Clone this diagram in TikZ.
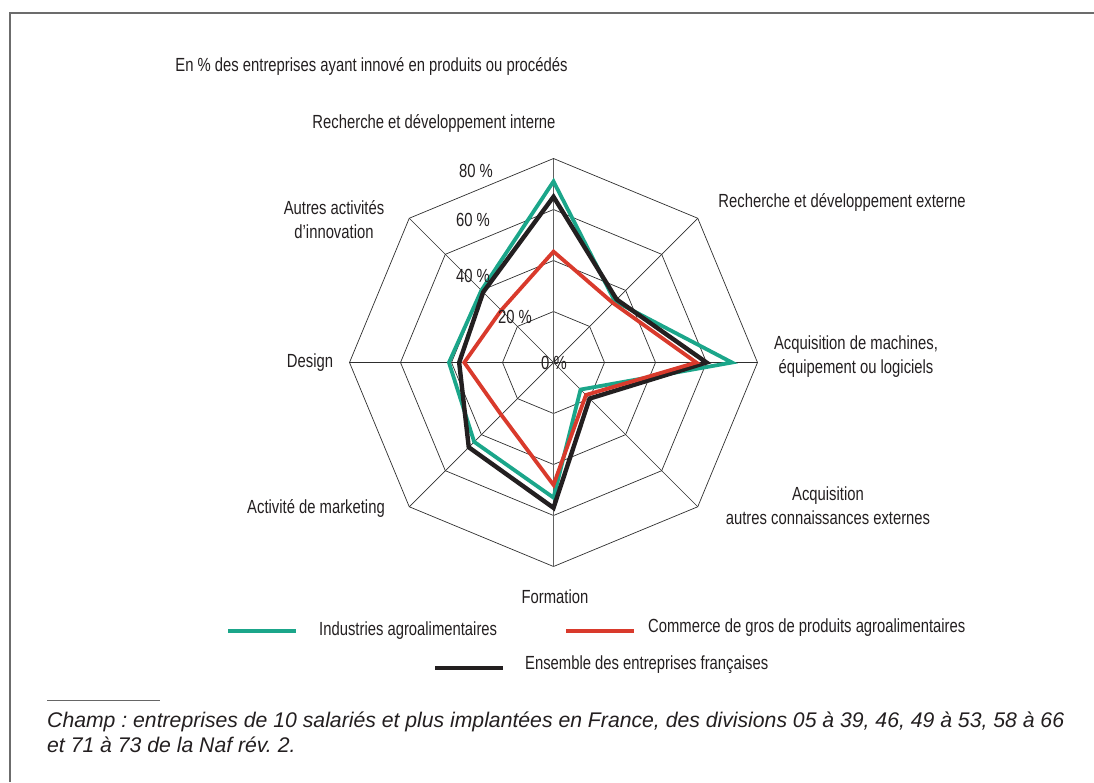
\documentclass[tikz,border=0pt]{standalone}
\usepackage{fontspec}
\setmainfont{Liberation Sans}
\newfontfamily\condfont{Liberation Sans}[FakeStretch=0.78]
\usetikzlibrary{positioning}
\definecolor{IAAGreen}{HTML}{1BA68A}
\definecolor{CGRed}{HTML}{D93A2C}
\definecolor{AllBlack}{HTML}{231F20}
\definecolor{WebGrey}{HTML}{2E2E2E}
\tikzset{
  frame/.style={draw=gray!85!black, line width=1.4pt},
  webline/.style={draw=WebGrey, line width=0.7pt},
  axisline/.style={draw=gray!75!black, line width=1.3pt},
  axistext/.style={font=\condfont\fontsize{19}{24}\selectfont, text=AllBlack, align=center, inner sep=0pt},
  ringtext/.style={axistext},
  serie/.style={line width=3.8pt, line join=miter},
  iaa/.style={serie, draw=IAAGreen},
  cgros/.style={serie, draw=CGRed},
  ensemble/.style={serie, draw=AllBlack, line width=4.4pt},
  notetext/.style={font=\frenchspacing\itshape\fontsize{21.2}{25}\selectfont, text=AllBlack, align=left, inner sep=0pt}
}
\begin{document}
\begin{tikzpicture}[x=1pt, y=-1pt]
\useasboundingbox (0,0) rectangle (1094,782);
\draw[frame] (10,782) -- (10,13) -- (1094,13);

\node (unite) [axistext] at (371.5,66) {En \% des entreprises ayant innové en produits ou procédés};

\begin{scope}[shift={(553.5,362.5)}, x=2.55pt, y=2.55pt]
  \foreach \r in {20,40,60,80}
    \draw[webline] (0:\r) -- (45:\r) -- (90:\r) -- (135:\r) -- (180:\r) -- (225:\r) -- (270:\r) -- (315:\r) -- cycle;
  \foreach \a in {0,45,135,180,225,315}
    \draw[webline] (0,0) -- (\a:80);
  \draw[axisline] (90:80) -- (270:80);
  \draw[iaa] (90:71) -- (45:34) -- (0:70) -- (-45:15) -- (-90:53) -- (-135:44) -- (180:41) -- (135:40) -- cycle;
  \draw[ensemble] (90:65) -- (45:35) -- (0:60) -- (-45:20) -- (-90:57) -- (-135:47) -- (180:37) -- (135:39) -- cycle;
  \draw[cgros] (90:43.5) -- (45:33) -- (0:56) -- (-45:18) -- (-90:48) -- (-135:29) -- (180:35) -- (135:29) -- cycle;
\end{scope}

\node (p80) [ringtext] at (476,171) {80 \%};
\node (p60) [ringtext] at (473,220) {60 \%};
\node (p40) [ringtext] at (473,276) {40 \%};
\node (p20) [ringtext] at (515,317) {20 \%};
\node (p0) [ringtext] at (554,363) {0 \%};

\node (rdint) [axistext] at (434,123) {Recherche et développement interne};
\node (rdext) [axistext] at (842,202) {Recherche et développement externe};
\node (machines) [axistext] at (856,357) {Acquisition de machines,\\équipement ou logiciels};
\node (connaiss) [axistext] at (828,506) {Acquisition\\autres connaissances externes};
\node (formation) [axistext] at (555,597) {Formation};
\node (marketing) [axistext] at (316,508) {Activité de marketing};
\node (design) [axistext] at (310,363) {Design};
\node (autres) [axistext] at (334,220) {Autres activités\\d’innovation};

\draw[iaa] (228,631) -- (296,631);
\node (legiaa) [axistext, anchor=west] at (319,631) {Industries agroalimentaires};
\draw[cgros] (566,631) -- (634,631);
\node (legcgros) [axistext, anchor=west] at (648,628) {Commerce de gros de produits agroalimentaires};
\draw[ensemble] (435,668) -- (503,668);
\node (legens) [axistext, anchor=west] at (525,665) {Ensemble des entreprises françaises};

\draw[line width=0.8pt, draw=gray!80!black] (47,700) -- (160,700);
\node (champ) [notetext, anchor=north west] at (47,712) {Champ : entreprises de 10 salariés et plus implantées en France, des divisions 05 à 39, 46, 49 à 53, 58 à 66\\et 71 à 73 de la Naf rév. 2.};
\end{tikzpicture}
\end{document}
